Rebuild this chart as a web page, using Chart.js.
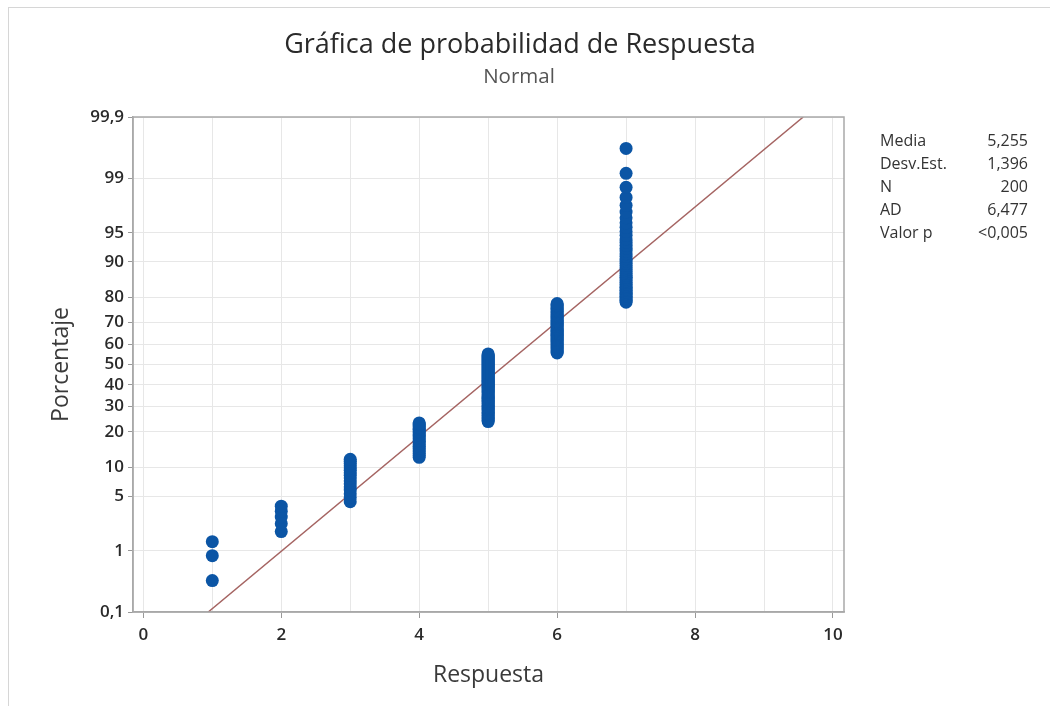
<!DOCTYPE html>
<html>
<head>
<meta charset="utf-8">
<script src="https://cdn.jsdelivr.net/npm/chart.js@4.4.1/dist/chart.umd.min.js"></script>
<style>
html, body { margin: 0; padding: 0; background: #fff; }
#wrap { position: relative; width: 1050px; height: 706px; overflow: hidden; }
#frame { position: absolute; left: 8px; top: 7px; right: -2px; bottom: -2px;
         border-left: 1px solid #d6d6d6; border-top: 1px solid #d6d6d6; }
#probChart { position: absolute; left: 0; top: 0; }
</style>
</head>
<body>
<div id="wrap">
  <div id="frame"></div>
  <canvas id="probChart" width="1050" height="706"></canvas>
</div>
<script>
// Observed responses and how many of the 200 answers fell on each
const responseValues = [1, 2, 3, 4, 5, 6, 7];
const responseCounts = [3, 5, 16, 23, 64, 45, 44];

// Fitted normal (from the stats box)
const fitMean = 5.255;
const fitSd = 1.396;

// Axis ticks
const xTickValues = [0, 1, 2, 3, 4, 5, 6, 7, 8, 9, 10];
const yTickPercents = [0.1, 1, 5, 10, 20, 30, 40, 50, 60, 70, 80, 90, 95, 99, 99.9];

// Stats box
const statLabels = ['Media', 'Desv.Est.', 'N', 'AD', 'Valor p'];
const statValues = ['5,255', '1,396', '200', '6,477', '<0,005'];

const FONT = "'Open Sans', 'Noto Sans', sans-serif";

// Inverse of the standard normal CDF (Acklam) - used for the probability axis
function normInv(p) {
    const a = [-39.69683028665376, 220.9460984245205, -275.9285104469687, 138.3577518672690, -30.66479806614716, 2.506628277459239];
    const b = [-54.47609879822406, 161.5858368580409, -155.6989798598866, 66.80131188771972, -13.28068155288572];
    const c = [-0.007784894002430293, -0.3223964580411365, -2.400758277161838, -2.549732539343734, 4.374664141464968, 2.938163982698783];
    const d = [0.007784695709041462, 0.3224671290700398, 2.445134137142996, 3.754408661907416];
    const pLow = 0.02425, pHigh = 1 - pLow;
    let q, r;
    if (p < pLow) {
        q = Math.sqrt(-2 * Math.log(p));
        return (((((c[0]*q+c[1])*q+c[2])*q+c[3])*q+c[4])*q+c[5]) / ((((d[0]*q+d[1])*q+d[2])*q+d[3])*q+1);
    }
    if (p <= pHigh) {
        q = p - 0.5; r = q * q;
        return (((((a[0]*r+a[1])*r+a[2])*r+a[3])*r+a[4])*r+a[5])*q / (((((b[0]*r+b[1])*r+b[2])*r+b[3])*r+b[4])*r+1);
    }
    q = Math.sqrt(-2 * Math.log(1 - p));
    return -(((((c[0]*q+c[1])*q+c[2])*q+c[3])*q+c[4])*q+c[5]) / ((((d[0]*q+d[1])*q+d[2])*q+d[3])*q+1);
}

// Median-rank plotting positions, like Minitab
const totalN = responseCounts.reduce((s, v) => s + v, 0);
const probPoints = [];
let rank = 0;
responseValues.forEach((v, i) => {
    for (let k = 0; k < responseCounts[i]; k++) {
        rank++;
        probPoints.push({ x: v, y: normInv((rank - 0.3) / (totalN + 0.4)) });
    }
});

const zLow = normInv(yTickPercents[0] / 100);
const zHigh = normInv(yTickPercents[yTickPercents.length - 1] / 100);
const fitLine = [
    { x: fitMean + fitSd * zLow, y: zLow },
    { x: fitMean + fitSd * zHigh, y: zHigh }
];

// Frame around plot, titles and the stats box
const decorPlugin = {
    id: 'decor',
    afterDraw(chart) {
        const ctx = chart.ctx;
        const a = chart.chartArea;
        ctx.save();
        ctx.strokeStyle = '#a9a9a9';
        ctx.lineWidth = 1.5;
        ctx.strokeRect(a.left, a.top, a.right - a.left, a.bottom - a.top);

        ctx.textAlign = 'center';
        ctx.textBaseline = 'middle';
        ctx.fillStyle = '#2a2a2a';
        ctx.font = '27px ' + FONT;
        ctx.fillText('Gráfica de probabilidad de Respuesta', 520, 45);
        ctx.fillStyle = '#555';
        ctx.font = '20.5px ' + FONT;
        ctx.fillText('Normal', 519, 77);

        ctx.font = '16px ' + FONT;
        ctx.fillStyle = '#333';
        statLabels.forEach((lab, i) => {
            const y = 141 + i * 23;
            ctx.textAlign = 'left';
            ctx.fillText(lab, 880, y);
            ctx.textAlign = 'right';
            ctx.fillText(statValues[i], 1028, y);
        });
        ctx.restore();
    }
};

const ctx = document.getElementById('probChart').getContext('2d');
const chart = new Chart(ctx, {
    type: 'scatter',
    data: {
        datasets: [
            {
                label: 'Respuesta',
                data: probPoints,
                backgroundColor: '#0b55a5',
                borderWidth: 0,
                pointRadius: 6.5,
                pointHoverRadius: 6.5
            },
            {
                label: 'Ajuste',
                data: fitLine,
                showLine: true,
                borderColor: '#a56462',
                borderWidth: 1.5,
                pointRadius: 0,
                fill: false
            }
        ]
    },
    options: {
        responsive: false,
        animation: false,
        layout: { padding: { left: 10, right: 206, top: 117, bottom: 0 } },
        plugins: {
            legend: { display: false },
            title: { display: false },
            tooltip: { enabled: false }
        },
        scales: {
            x: {
                type: 'linear',
                min: -0.15,
                max: 10.16,
                afterFit: scale => { scale.height = 94; },
                afterBuildTicks: scale => {
                    scale.ticks = xTickValues.map(v => ({ value: v }));
                },
                grid: {
                    color: '#e7e7e7',
                    tickLength: 6,
                    tickColor: c => (c.tick && c.tick.value % 2 === 0) ? '#999' : 'rgba(0,0,0,0)'
                },
                border: { color: '#a9a9a9', width: 1.5 },
                ticks: {
                    autoSkip: false,
                    maxRotation: 0,
                    padding: 7,
                    color: '#2a2a2a',
                    font: { family: FONT, size: 17, weight: '600' },
                    callback: v => (v % 2 === 0 ? String(v) : '')
                },
                title: {
                    display: true,
                    text: 'Respuesta',
                    color: '#3a3a3a',
                    font: { family: FONT, size: 23 },
                    padding: { top: 0, bottom: 17 }
                }
            },
            y: {
                type: 'linear',
                min: zLow,
                max: zHigh,
                afterFit: scale => { scale.width = 123; },
                afterBuildTicks: scale => {
                    scale.ticks = yTickPercents.map(p => ({ value: normInv(p / 100) }));
                },
                grid: {
                    color: '#e7e7e7',
                    tickLength: 5,
                    tickColor: '#999'
                },
                border: { color: '#a9a9a9', width: 1.5 },
                ticks: {
                    autoSkip: false,
                    padding: 4,
                    color: '#2a2a2a',
                    font: { family: FONT, size: 17, weight: '600' },
                    callback: (v, i) => String(yTickPercents[i]).replace('.', ',')
                },
                title: {
                    display: true,
                    text: 'Porcentaje',
                    color: '#3a3a3a',
                    font: { family: FONT, size: 23 },
                    padding: { top: 38, bottom: 0 }
                }
            }
        }
    },
    plugins: [decorPlugin]
});
</script>
</body>
</html>
